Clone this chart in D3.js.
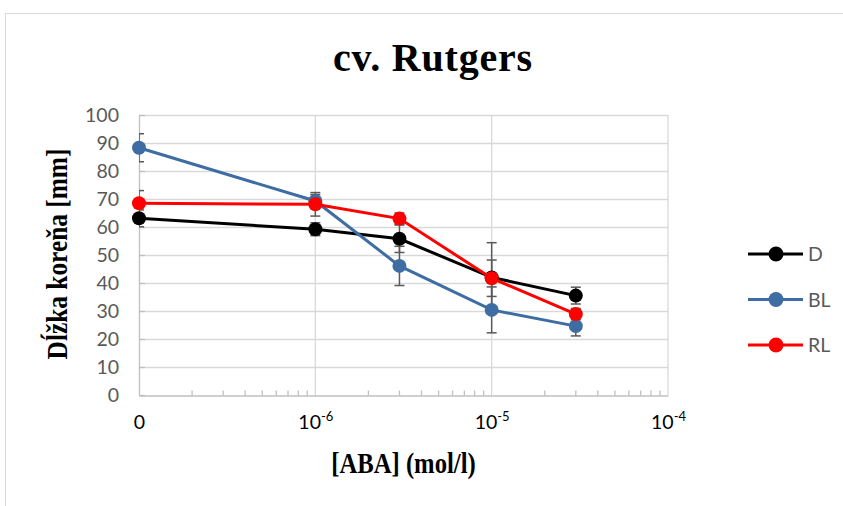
<!DOCTYPE html>
<html>
<head>
<meta charset="utf-8">
<script src="https://cdn.jsdelivr.net/npm/d3@7"></script>
<style>
  body { margin: 0; background: #fff; }
  text { font-family: Lato, "Liberation Sans", sans-serif; }
  .serif { font-family: "Liberation Serif", "DejaVu Serif", serif; font-weight: bold; }
</style>
</head>
<body>
<div id="chart"></div>
<script>
// ABA concentrations (mol/l); 0 is drawn at the left end of the log axis
const concentrations = [0, 1e-6, 3e-6, 1e-5, 3e-5];
const xTickValues = [1e-7, 1e-6, 1e-5, 1e-4];
const xTickLabels = [['0', ''], ['10', '-6'], ['10', '-5'], ['10', '-4']];
const yTickValues = [0, 10, 20, 30, 40, 50, 60, 70, 80, 90, 100];

const seriesNames = ['D', 'BL', 'RL'];
const valuesD = [63.1, 59.2, 55.8, 42.0, 35.5];
const valuesBL = [88.3, 69.3, 46.1, 30.4, 24.6];
const valuesRL = [68.5, 68.1, 63.0, 41.7, 28.9];
const errorsD = [3.0, 2.3, 4.9, 12.4, 3.0];
const errorsBL = [5.0, 2.3, 7.0, 8.2, 3.5];
const errorsRL = [4.5, 4.2, 2.0, 6.5, 2.0];

const colors = ['#000000', '#3d6da3', '#ff0000'];

const series = seriesNames.map((name, i) => ({
  name,
  color: colors[i],
  points: concentrations.map((c, j) => ({
    x: c === 0 ? 1e-7 : c,
    y: [valuesD, valuesBL, valuesRL][i][j],
    err: [errorsD, errorsBL, errorsRL][i][j],
  })),
}));

const W = 843, H = 506;
const margin = { top: 115, right: 175, bottom: 111, left: 139 };

const svg = d3.select('#chart').append('svg')
  .attr('width', W)
  .attr('height', H);

// outer chart border (right and bottom run off the picture)
svg.append('rect')
  .attr('x', 5.5).attr('y', 13.5)
  .attr('width', W + 20).attr('height', H + 20)
  .attr('fill', 'none')
  .attr('stroke', '#d9d9d9');

const x = d3.scaleLog().domain([1e-7, 1e-4]).range([margin.left, W - margin.right]);
const y = d3.scaleLinear().domain([0, 100]).range([H - margin.bottom, margin.top]);

// gridlines
svg.append('g')
  .selectAll('line')
  .data(yTickValues.slice(1))
  .enter()
  .append('line')
  .attr('x1', x.range()[0]).attr('x2', x.range()[1])
  .attr('y1', d => y(d) + 0.5).attr('y2', d => y(d) + 0.5)
  .attr('stroke', '#d9d9d9')
  .attr('stroke-width', 1.3);

svg.append('g')
  .selectAll('line')
  .data(xTickValues.slice(1))
  .enter()
  .append('line')
  .attr('x1', d => x(d)).attr('x2', d => x(d))
  .attr('y1', y(0)).attr('y2', y(100))
  .attr('stroke', '#d9d9d9')
  .attr('stroke-width', 1.3);

// y axis
const yAxis = d3.axisLeft(y)
  .tickValues(yTickValues)
  .tickSize(0)
  .tickPadding(20);

const gy = svg.append('g')
  .attr('transform', `translate(${x.range()[0]}, 0)`)
  .call(yAxis);
gy.select('.domain').attr('stroke', '#bfbfbf').attr('stroke-width', 1.3);
gy.selectAll('text')
  .attr('fill', '#595959')
  .style('font-size', '19.5px');

// small inner ticks on the y axis
svg.append('g')
  .selectAll('line')
  .data(yTickValues)
  .enter()
  .append('line')
  .attr('x1', x.range()[0]).attr('x2', x.range()[0] + 6)
  .attr('y1', d => y(d) + 0.5).attr('y2', d => y(d) + 0.5)
  .attr('stroke', '#bfbfbf')
  .attr('stroke-width', 1.3);

// x axis
const xAxis = d3.axisBottom(x)
  .tickValues(xTickValues)
  .tickSize(0)
  .tickFormat('');

const gx = svg.append('g')
  .attr('transform', `translate(0, ${y(0) + 0.5})`)
  .call(xAxis);
gx.select('.domain').attr('stroke', '#bfbfbf').attr('stroke-width', 1.5);

const labels = gx.selectAll('.tick')
  .append('text')
  .attr('y', 33)
  .attr('fill', '#000')
  .attr('text-anchor', 'middle')
  .style('font-size', '19.5px');
labels.append('tspan').text((d, i) => xTickLabels[i][0]);
labels.append('tspan')
  .attr('dy', -8)
  .style('font-size', '13px')
  .text((d, i) => xTickLabels[i][1]);

// minor log ticks pointing up from the axis
const minorTicks = [];
[-7, -6, -5].forEach((e) => {
  d3.range(2, 10).forEach(m => minorTicks.push(m * Math.pow(10, e)));
});
gx.append('g')
  .selectAll('line')
  .data(minorTicks)
  .enter()
  .append('line')
  .attr('x1', d => x(d)).attr('x2', d => x(d))
  .attr('y1', 0).attr('y2', -5)
  .attr('stroke', '#bfbfbf')
  .attr('stroke-width', 1.3);

// clip error bars to the plot area
svg.append('clipPath')
  .attr('id', 'plot-clip')
  .append('rect')
  .attr('x', x.range()[0]).attr('y', y(100) - 5)
  .attr('width', x.range()[1] - x.range()[0])
  .attr('height', y(0) - y(100) + 10);

const errG = svg.append('g')
  .attr('clip-path', 'url(#plot-clip)')
  .attr('stroke', '#595959')
  .attr('stroke-width', 1.5);

series.forEach((s) => {
  s.points.forEach((p) => {
    const cx = x(p.x);
    errG.append('line')
      .attr('x1', cx).attr('x2', cx)
      .attr('y1', y(p.y - p.err)).attr('y2', y(p.y + p.err));
    [p.y - p.err, p.y + p.err].forEach((v) => {
      errG.append('line')
        .attr('x1', cx - 5).attr('x2', cx + 5)
        .attr('y1', y(v)).attr('y2', y(v));
    });
  });
});

const line = d3.line()
  .x(d => x(d.x))
  .y(d => y(d.y));

series.forEach((s) => {
  svg.append('path')
    .datum(s.points)
    .attr('fill', 'none')
    .attr('stroke', s.color)
    .attr('stroke-width', 3)
    .attr('d', line);

  svg.append('g')
    .selectAll('circle')
    .data(s.points)
    .enter()
    .append('circle')
    .attr('cx', d => x(d.x))
    .attr('cy', d => y(d.y))
    .attr('r', 7)
    .attr('fill', s.color);
});

// legend
const legend = svg.selectAll('.legend')
  .data(series)
  .enter()
  .append('g')
  .attr('class', 'legend')
  .attr('transform', (d, i) => `translate(748, ${254 + i * 45.5})`);

legend.append('line')
  .attr('x1', 0).attr('x2', 55)
  .attr('y1', 0).attr('y2', 0)
  .attr('stroke', d => d.color)
  .attr('stroke-width', 3);

legend.append('circle')
  .attr('cx', 28).attr('cy', 0)
  .attr('r', 7.5)
  .attr('fill', d => d.color);

legend.append('text')
  .attr('x', 60)
  .attr('y', 7)
  .attr('fill', '#595959')
  .style('font-size', '19.5px')
  .text(d => d.name);

// titles
svg.append('text')
  .attr('class', 'serif')
  .attr('x', 433).attr('y', 71)
  .attr('text-anchor', 'middle')
  .style('font-size', '40px')
  .style('letter-spacing', '0.8px')
  .text('cv. Rutgers');

const plotMid = (x.range()[0] + x.range()[1]) / 2;
svg.append('text')
  .attr('class', 'serif')
  .attr('transform', `translate(${plotMid}, 473) scale(0.85, 1)`)
  .attr('text-anchor', 'middle')
  .style('font-size', '29px')
  .text('[ABA] (mol/l)');

svg.append('text')
  .attr('class', 'serif')
  .attr('transform', 'translate(67, 254) rotate(-90) scale(0.875, 1)')
  .attr('text-anchor', 'middle')
  .style('font-size', '29px')
  .text('Dĺžka koreňa [mm]');
</script>
</body>
</html>
